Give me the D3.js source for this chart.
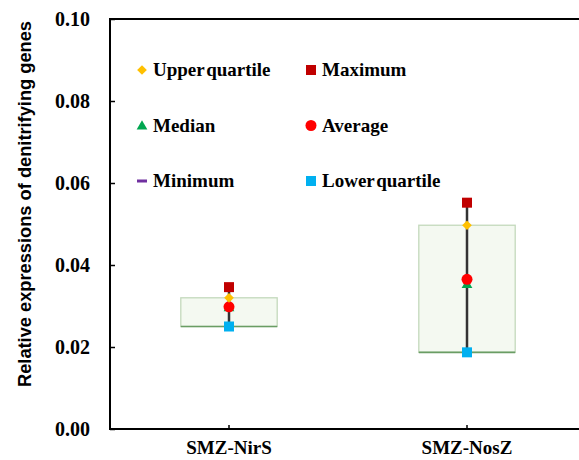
<!DOCTYPE html>
<html><head><meta charset="utf-8">
<script src="https://cdn.jsdelivr.net/npm/d3@7"></script>
<style>body{margin:0;background:#fff}svg{display:block}</style>
</head><body>
<svg id="c" width="579" height="460"></svg>
<script>
const categories = ["SMZ-NirS", "SMZ-NosZ"];
const maximum = [0.0346, 0.0552];
const upperQuartile = [0.0320, 0.0497];
const median = [0.0297, 0.0354];
const average = [0.0298, 0.0365];
const lowerQuartile = [0.0250, 0.0187];
const minimum = [0.0250, 0.0187];
const yTicks = [0, 0.02, 0.04, 0.06, 0.08, 0.10];
const legendItems = [
  {key:"uq", label:"Upper quartile"}, {key:"max", label:"Maximum"},
  {key:"med", label:"Median"}, {key:"avg", label:"Average"},
  {key:"min", label:"Minimum"}, {key:"lq", label:"Lower quartile"}
];

const svg = d3.select("#c");
const L = 110, T = 19, R = 586, B = 429;
const SERIF = "Liberation Serif";
const x = d3.scaleBand().domain(categories).range([L, R]);
const y = d3.scaleLinear().domain([0, 0.1]).range([B, T]);
const colors = {uq:"#ffc000", max:"#c00000", med:"#00a650", avg:"#ff0000", min:"#7030a0", lq:"#00b0f0"};

function marker(g, key, cx, cy) {
  if (key === "uq") g.append("path").attr("d", d3.symbol(d3.symbolDiamond2, 60)()).attr("transform", `translate(${cx},${cy})`).attr("fill", colors.uq);
  else if (key === "max" || key === "lq") g.append("rect").attr("x", cx-5).attr("y", cy-5).attr("width", 10).attr("height", 10).attr("fill", colors[key]);
  else if (key === "med") g.append("path").attr("d", d3.symbol(d3.symbolTriangle, 50)()).attr("transform", `translate(${cx},${cy+1})`).attr("fill", colors.med);
  else if (key === "avg") g.append("circle").attr("cx", cx).attr("cy", cy).attr("r", 5.5).attr("fill", colors.avg);
  else if (key === "min") g.append("rect").attr("x", cx-5).attr("y", cy-1.5).attr("width", 10).attr("height", 3).attr("fill", colors.min);
}

// boxes
const bw = x.bandwidth()*0.405;
categories.forEach((c, i) => {
  const cx = x(c) + x.bandwidth()/2;
  const g = svg.append("g");
  g.append("rect").attr("x", cx-bw/2).attr("y", y(upperQuartile[i])).attr("width", bw)
    .attr("height", y(lowerQuartile[i]) - y(upperQuartile[i]))
    .attr("fill", "#f4f9f1").attr("stroke", "#c3d9bc").attr("stroke-width", 1.3);
  g.append("line").attr("x1", cx-bw/2).attr("x2", cx+bw/2).attr("y1", y(lowerQuartile[i])).attr("y2", y(lowerQuartile[i]))
    .attr("stroke", "#6a9d64").attr("stroke-width", 1.6);
  g.append("line").attr("x1", cx).attr("x2", cx).attr("y1", y(minimum[i])).attr("y2", y(maximum[i]))
    .attr("stroke", "#333").attr("stroke-width", 2.5);
  marker(g, "min", cx, y(minimum[i]));
  marker(g, "med", cx, y(median[i]));
  marker(g, "avg", cx, y(average[i]));
  marker(g, "uq", cx, y(upperQuartile[i]));
  marker(g, "lq", cx, y(lowerQuartile[i]));
  marker(g, "max", cx, y(maximum[i]));
});

// frame
svg.append("rect").attr("x", L).attr("y", T).attr("width", R-L).attr("height", B-T)
  .attr("fill", "none").attr("stroke", "#000").attr("stroke-width", 2);

// y axis
const ya = svg.append("g").attr("transform", `translate(${L},0)`)
  .call(d3.axisLeft(y).tickValues(yTicks).tickFormat(d3.format(".2f")).tickSizeInner(-5).tickSizeOuter(0).tickPadding(20));
ya.attr("font-family", SERIF).attr("font-size", 20).attr("font-weight", "bold");
ya.select(".domain").remove();
ya.selectAll("line").attr("stroke", "#000").attr("stroke-width", 1.5);
ya.selectAll("text").attr("fill", "#000").attr("font-family", SERIF);

// x axis
const xa = svg.append("g").attr("transform", `translate(0,${B})`)
  .call(d3.axisBottom(x).tickSizeInner(-4).tickSizeOuter(0).tickPadding(12));
xa.attr("font-family", SERIF).attr("font-size", 19).attr("font-weight", "bold");
xa.select(".domain").remove();
xa.selectAll("line").attr("stroke", "#000").attr("stroke-width", 1.5);
xa.selectAll("text").attr("fill", "#000").attr("font-family", SERIF);

// y title
svg.append("text").attr("transform", "translate(31,204) rotate(-90)").attr("text-anchor", "middle")
  .attr("font-family", "Liberation Sans").attr("font-weight", "bold").attr("font-size", 17.5)
  .attr("textLength", 366).attr("lengthAdjust", "spacingAndGlyphs")
  .attr("fill", "#000").text("Relative expressions of denitrifying genes");

// legend
const lg = svg.append("g");
legendItems.forEach((d, i) => {
  const col = i % 2, row = Math.floor(i / 2);
  const mx = col === 0 ? 142 : 311, ty = 70 + row*55.5;
  marker(lg, d.key, mx, ty);
  lg.append("text").attr("x", mx+11).attr("y", ty+6).attr("font-family", SERIF).attr("font-weight", "bold")
    .attr("font-size", 19).attr("word-spacing", -3).attr("fill", "#000").text(d.label);
});
</script>
</body></html>
